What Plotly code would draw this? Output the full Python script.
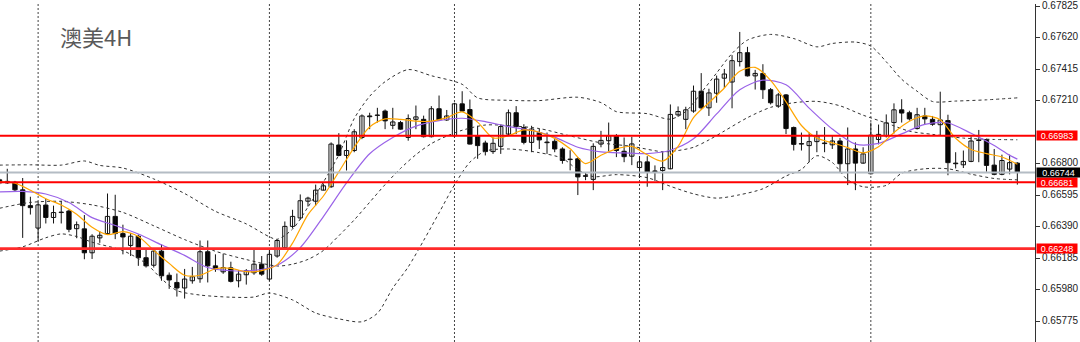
import plotly.graph_objects as go

# ---------------- data ----------------
bars = list(range(133))
opens = [0.66696,0.66676,0.66680,0.66631,0.66528,0.66382,0.66532,0.66451,0.66486,0.66493,
         0.66378,0.66377,0.66221,0.66318,0.66346,0.66458,0.66346,0.66269,0.66329,0.66189,
         0.66140,0.66232,0.66075,0.66028,0.65992,0.66039,0.66052,0.66228,0.66136,0.66097,
         0.66123,0.66039,0.66078,0.66091,0.66147,0.66050,0.66200,0.66254,0.66393,0.66448,
         0.66557,0.66557,0.66629,0.66651,0.66923,0.66855,0.66887,0.66972,0.67112,0.67118,
         0.67144,0.67051,0.67069,0.66972,0.67090,0.67090,0.66977,0.67159,0.67086,0.66983,
         0.67191,0.67154,0.66983,0.66936,0.66880,0.66914,0.66994,0.67133,0.67037,0.66940,
         0.67004,0.66942,0.66947,0.66897,0.66831,0.66833,0.66723,0.66699,0.66929,0.66951,
         0.66983,0.66882,0.66850,0.66776,0.66813,0.66754,0.66757,0.66768,0.67119,0.67090,
         0.67144,0.67273,0.67165,0.67260,0.67358,0.67333,0.67466,0.67524,0.67373,0.67389,
         0.67283,0.67176,0.67249,0.67037,0.66932,0.66919,0.66945,0.66936,0.66924,0.66949,
         0.66801,0.66897,0.66805,0.66736,0.66959,0.66983,0.67069,0.67152,0.67133,0.67030,
         0.67112,0.67090,0.67055,0.67082,0.66805,0.66794,0.66816,0.66956,0.66959,0.66792,
         0.66732,0.66766,0.66805]
highs = [0.66708,0.66768,0.66689,0.66708,0.66586,0.66554,0.66573,0.66528,0.66560,0.66503,
         0.66425,0.66467,0.66342,0.66361,0.66607,0.66599,0.66404,0.66350,0.66340,0.66243,
         0.66243,0.66275,0.66093,0.66086,0.66116,0.66129,0.66301,0.66301,0.66211,0.66215,
         0.66163,0.66108,0.66115,0.66245,0.66200,0.66243,0.66308,0.66425,0.66501,0.66601,
         0.66586,0.66665,0.66672,0.66940,0.67000,0.66953,0.67026,0.67122,0.67133,0.67165,
         0.67154,0.67165,0.67080,0.67122,0.67180,0.67114,0.67176,0.67245,0.67151,0.67198,
         0.67273,0.67219,0.67048,0.66951,0.66972,0.67058,0.67154,0.67176,0.67058,0.67048,
         0.67030,0.67004,0.66961,0.66908,0.66889,0.66844,0.66747,0.66934,0.67015,0.67069,
         0.66994,0.66972,0.66976,0.66850,0.66850,0.66790,0.66882,0.67187,0.67174,0.67172,
         0.67310,0.67391,0.67289,0.67375,0.67418,0.67508,0.67659,0.67562,0.67412,0.67449,
         0.67294,0.67262,0.67255,0.67043,0.67004,0.67004,0.67015,0.67040,0.66983,0.66969,
         0.67037,0.66940,0.66908,0.67069,0.67056,0.67122,0.67194,0.67221,0.67146,0.67165,
         0.67165,0.67112,0.67270,0.67120,0.66876,0.66887,0.66979,0.67021,0.66964,0.66897,
         0.66860,0.66860,0.66811]
lows = [0.66663,0.66670,0.66618,0.66318,0.66470,0.66297,0.66412,0.66412,0.66412,0.66355,
        0.66316,0.66179,0.66181,0.66286,0.66338,0.66310,0.66211,0.66200,0.66136,0.66125,
        0.66125,0.66039,0.65986,0.65936,0.65923,0.66020,0.66026,0.66028,0.66097,0.66084,
        0.66028,0.65996,0.66014,0.66078,0.66071,0.66039,0.66189,0.66243,0.66380,0.66436,
        0.66522,0.66528,0.66628,0.66644,0.66850,0.66757,0.66876,0.66961,0.67026,0.67069,
        0.67026,0.67026,0.67024,0.66951,0.67026,0.66972,0.66972,0.67080,0.67080,0.66972,
        0.67140,0.66927,0.66833,0.66855,0.66865,0.66865,0.66983,0.66994,0.66927,0.66876,
        0.66897,0.66865,0.66876,0.66801,0.66758,0.66597,0.66694,0.66629,0.66908,0.66882,
        0.66844,0.66811,0.66792,0.66708,0.66651,0.66689,0.66629,0.66765,0.67107,0.67026,
        0.67133,0.67154,0.67112,0.67198,0.67294,0.67162,0.67434,0.67369,0.67284,0.67223,
        0.67187,0.67165,0.66994,0.66887,0.66887,0.66811,0.66876,0.66876,0.66897,0.66741,
        0.66662,0.66629,0.66801,0.66731,0.66927,0.66972,0.66998,0.67069,0.67082,0.67024,
        0.67058,0.67048,0.66988,0.66726,0.66770,0.66773,0.66811,0.66811,0.66749,0.66726,
        0.66726,0.66732,0.66665]
closes = [0.66676,0.66686,0.66631,0.66528,0.66515,0.66533,0.66451,0.66483,0.66483,0.66374,
          0.66404,0.66221,0.66329,0.66335,0.66458,0.66346,0.66324,0.66329,0.66189,0.66136,
          0.66232,0.66071,0.66044,0.65992,0.66050,0.66065,0.66228,0.66136,0.66115,0.66125,
          0.66035,0.66082,0.66104,0.66147,0.66082,0.66211,0.66301,0.66393,0.66458,0.66560,
          0.66577,0.66629,0.66657,0.66929,0.66855,0.66887,0.67009,0.67112,0.67107,0.67116,
          0.67080,0.67073,0.67026,0.67095,0.67106,0.66977,0.67159,0.67086,0.67112,0.67191,
          0.67144,0.66929,0.66919,0.66880,0.66934,0.67043,0.67133,0.67043,0.66940,0.67027,
          0.66956,0.66938,0.66897,0.66822,0.66828,0.66715,0.66719,0.66914,0.66953,0.66983,
          0.66887,0.66847,0.66930,0.66813,0.66747,0.66750,0.66776,0.67122,0.67141,0.67152,
          0.67273,0.67165,0.67262,0.67352,0.67385,0.67472,0.67524,0.67373,0.67389,0.67283,
          0.67198,0.67249,0.67030,0.66927,0.66929,0.66945,0.66983,0.66932,0.66949,0.66801,
          0.66897,0.66805,0.66865,0.66987,0.66992,0.67067,0.67152,0.67131,0.67093,0.67120,
          0.67093,0.67058,0.67086,0.66808,0.66801,0.66816,0.66949,0.66952,0.66790,0.66732,
          0.66822,0.66808,0.66744]

# moving averages (orange fast, purple slow)
ma_fast_bars = list(range(0, 133, 2))
ma_fast = [0.66683,0.66675,0.66628,0.66573,0.66532,0.66472,0.66387,0.66339,0.66359,0.66327,
           0.66237,0.66152,0.66075,0.66075,0.66117,0.66120,0.66098,0.66105,0.66144,0.66284,
           0.66470,0.66591,0.66748,0.66908,0.67040,0.67093,0.67090,0.67078,0.67078,0.67101,
           0.67138,0.67072,0.66969,0.66983,0.67021,0.67006,0.66966,0.66898,0.66802,0.66856,
           0.66898,0.66914,0.66859,0.66818,0.66914,0.67101,0.67198,0.67294,0.67403,0.67428,
           0.67344,0.67204,0.67050,0.66968,0.66937,0.66906,0.66872,0.66911,0.67004,0.67077,
           0.67112,0.67088,0.66967,0.66894,0.66867,0.66845,0.66798]
ma_slow_bars = list(range(0, 130, 3)) + [131, 132]
ma_slow = [0.66618,0.66621,0.66604,0.66549,0.66450,0.66399,0.66343,0.66273,0.66204,0.66125,
           0.66104,0.66106,0.66140,0.66255,0.66457,0.66676,0.66866,0.66972,0.67046,0.67082,
           0.67097,0.67075,0.67043,0.67018,0.66974,0.66908,0.66878,0.66871,0.66867,0.66889,
           0.66963,0.67125,0.67283,0.67345,0.67315,0.67163,0.67027,0.66929,0.66934,0.66995,
           0.67057,0.67066,0.66999,0.66919,0.66856,0.66831]

# Bollinger bands
bb_up_bars = [0,4,8,11,13,16,20,24,28,32,35,36,38,40,42,44,46,48,50,53,56,60,62,66,70,75,78,80,84,87,
              89,91,93,95,97,100,103,106,108,111,113,115,117,119,121,124,128,132]
bb_up = [0.66792,0.66794,0.66792,0.66819,0.66790,0.66773,0.66702,0.66607,0.66491,0.66409,
         0.66325,0.66309,0.66375,0.66519,0.66681,0.66859,0.67095,0.67240,0.67335,0.67414,
         0.67374,0.67318,0.67230,0.67214,0.67212,0.67234,0.67199,0.67140,0.67127,0.67091,
         0.67141,0.67263,0.67392,0.67519,0.67606,0.67643,0.67616,0.67562,0.67584,0.67593,
         0.67567,0.67465,0.67351,0.67273,0.67206,0.67209,0.67217,0.67230]
bb_mid_bars = [0,4,8,12,16,20,24,28,32,36,38,40,42,44,46,48,50,52,54,56,58,60,63,66,70,74,78,82,86,88,
               90,92,94,97,100,103,106,109,112,115,118,121,125,129,132]
bb_mid = [0.66511,0.66549,0.66556,0.66533,0.66484,0.66397,0.66307,0.66231,0.66177,0.66135,
          0.66147,0.66178,0.66236,0.66332,0.66435,0.66550,0.66665,0.66770,0.66860,0.66932,
          0.66981,0.67019,0.67053,0.67049,0.67030,0.66982,0.66937,0.66914,0.66879,0.66887,
          0.66908,0.66956,0.67014,0.67101,0.67168,0.67198,0.67207,0.67178,0.67117,0.67066,
          0.67013,0.66992,0.66968,0.66959,0.66957]
bb_low_bars = [0,3,6,8,10,12,16,19,21,23,26,30,33,35,38,41,44,47,49,51,53,55,57,59,61,63,66,70,73,75,
               77,80,84,87,90,93,96,99,102,104,106,108,110,112,115,117,120,123,126,129,132]
bb_low = [0.66232,0.66260,0.66319,0.66344,0.66327,0.66290,0.66235,0.66151,0.66052,0.65975,
          0.65946,0.65932,0.65933,0.65959,0.65914,0.65829,0.65791,0.65772,0.65827,0.65991,
          0.66129,0.66301,0.66481,0.66663,0.66811,0.66883,0.66897,0.66873,0.66836,0.66761,
          0.66717,0.66730,0.66710,0.66654,0.66605,0.66577,0.66599,0.66638,0.66721,0.66764,
          0.66853,0.66809,0.66696,0.66651,0.66660,0.66739,0.66768,0.66768,0.66733,0.66705,
          0.66696]

red_levels = [0.66983, 0.66681, 0.66248]
bid_level = 0.66744
grid_bars = [5, 35, 59, 83, 113]
tick_vals = [0.67825, 0.67620, 0.67415, 0.67210, 0.66800, 0.66595, 0.66390, 0.66185, 0.65980, 0.65775]
tick_text = ["%.5f" % v for v in tick_vals]
title_text = "澳美4H"

# ---------------- figure ----------------
fig = go.Figure()

# wicks
wx, wy = [], []
for i, h, l in zip(bars, highs, lows):
    wx += [i, i, None]
    wy += [l, h, None]
fig.add_trace(go.Scatter(x=wx, y=wy, mode="lines", line=dict(color="#111111", width=1),
                         hoverinfo="skip"))

# bodies
min_h = 0.000022
heights, bases, fills = [], [], []
for o, c in zip(opens, closes):
    d = abs(c - o)
    h = max(d, min_h)
    heights.append(h)
    bases.append(min(o, c) - (h - d) / 2)
    fills.append("#ffffff" if c >= o else "#000000")
fig.add_trace(go.Bar(x=bars, y=heights, base=bases, width=0.56,
                     marker=dict(color=fills, line=dict(color="#111111", width=1)),
                     hoverinfo="skip"))

band_style = dict(color="#333333", width=1, dash="3px,3px", shape="spline", smoothing=0.8)
for bx, by in [(bb_up_bars, bb_up), (bb_mid_bars, bb_mid), (bb_low_bars, bb_low)]:
    fig.add_trace(go.Scatter(x=bx, y=by, mode="lines", line=band_style, hoverinfo="skip"))

fig.add_trace(go.Scatter(x=ma_slow_bars, y=ma_slow, mode="lines",
                         line=dict(color="#9a63e8", width=1.2, shape="spline", smoothing=0.8),
                         hoverinfo="skip"))
fig.add_trace(go.Scatter(x=ma_fast_bars, y=ma_fast, mode="lines",
                         line=dict(color="#ffa500", width=1.2, shape="spline", smoothing=0.8),
                         hoverinfo="skip"))

shapes = []
for g in grid_bars:
    shapes.append(dict(type="line", xref="x", yref="paper", x0=g, x1=g, y0=0, y1=1,
                       line=dict(color="#444444", width=1, dash="2px,2px"), layer="below"))
shapes.append(dict(type="line", xref="paper", yref="y", x0=0, x1=1, y0=bid_level, y1=bid_level,
                   line=dict(color="#b4bcc4", width=2), layer="above"))
for k, lv in enumerate(red_levels):
    shapes.append(dict(type="line", xref="paper", yref="y", x0=0, x1=1, y0=lv, y1=lv,
                       line=dict(color="#ff0000" if k < 2 else "#ff2a2a", width=2 if k < 2 else 2.6),
                       layer="above"))

annotations = [dict(text=title_text, xref="paper", yref="paper", x=58 / 1035, y=1 - 32.5 / 342,
                    xanchor="left", yanchor="middle", showarrow=False,
                    font=dict(family="Noto Sans CJK SC", size=22, color="#5a5a5a"))]
for lv in red_levels:
    annotations.append(dict(text="%.5f" % lv, xref="paper", yref="y", x=1, y=lv, xanchor="left",
                            yanchor="middle", xshift=1, showarrow=False, bgcolor="#ff0000",
                            width=40, height=9, borderpad=0, align="center",
                            font=dict(family="Liberation Sans", size=9, color="#ffffff")))
annotations.append(dict(text="%.5f" % bid_level, xref="paper", yref="y", x=1, y=bid_level,
                        xanchor="left", yanchor="middle", xshift=1, showarrow=False,
                        bgcolor="#000000", width=43, height=9, borderpad=0, align="center",
                        font=dict(family="Liberation Sans", size=9, color="#ffffff")))

fig.update_layout(
    width=1080, height=342, margin=dict(l=0, r=45, t=0, b=0),
    paper_bgcolor="white", plot_bgcolor="white", showlegend=False, hovermode=False,
    xaxis=dict(range=[0.058, 134.29], visible=False, showgrid=False, zeroline=False),
    yaxis=dict(range=[0.656402, 0.67841], side="right", showgrid=False, zeroline=False,
               tickvals=tick_vals, ticktext=tick_text, ticks="outside", ticklen=4,
               tickcolor="#333333", showline=True, linecolor="#333333", linewidth=1,
               ticklabeloverflow="allow", ticklabelshift=-1,
               tickfont=dict(family="Liberation Sans", size=10, color="#222222")),
    shapes=shapes, annotations=annotations,
)

fig.write_html("out.html")
